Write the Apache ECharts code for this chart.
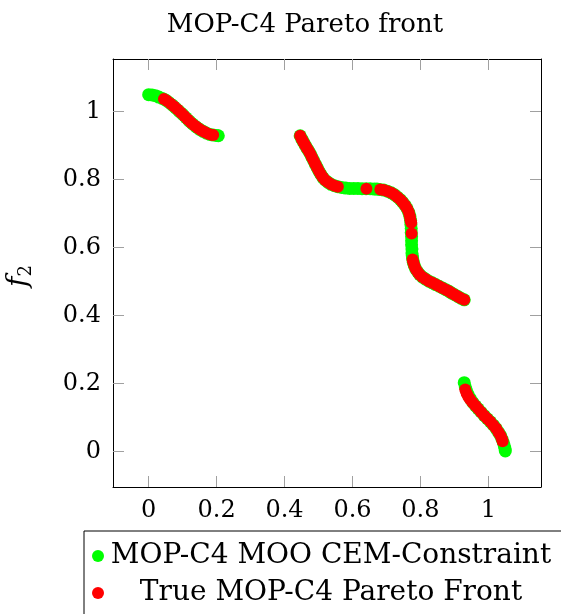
<!DOCTYPE html>
<html>
<head>
<meta charset="utf-8">
<script src="https://cdn.jsdelivr.net/npm/echarts@6/dist/echarts.min.js"></script>
<style>
  html, body { margin: 0; padding: 0; background: #fff; }
  #chart { width: 561px; height: 614px; }
</style>
</head>
<body>
<div id="chart"></div>
<script>
// values
const tickValues = [0, 0.2, 0.4, 0.6, 0.8, 1]

const cemPoints = [
  [0, 1.050], [0.01, 1.049], [0.02, 1.047], [0.03, 1.043], [0.04, 1.039], [0.05, 1.034],
  [0.06, 1.027], [0.07, 1.019], [0.08, 1.010], [0.09, 1.001], [0.10, 0.992], [0.11, 0.982],
  [0.12, 0.972], [0.13, 0.963], [0.14, 0.955], [0.15, 0.948], [0.16, 0.942], [0.17, 0.937],
  [0.18, 0.933], [0.19, 0.931], [0.20, 0.930], [0.205, 0.929],
  [0.446, 0.929], [0.451, 0.919], [0.456, 0.910], [0.461, 0.901], [0.466, 0.892], [0.471, 0.884],
  [0.476, 0.875], [0.481, 0.865], [0.486, 0.855], [0.491, 0.845], [0.496, 0.835], [0.501, 0.825],
  [0.507, 0.815], [0.513, 0.806], [0.520, 0.798], [0.528, 0.792], [0.537, 0.786], [0.547, 0.782],
  [0.557, 0.779], [0.568, 0.777], [0.580, 0.775], [0.592, 0.774], [0.604, 0.774], [0.616, 0.774],
  [0.628, 0.773], [0.640, 0.773], [0.652, 0.773], [0.664, 0.772], [0.672, 0.772], [0.680, 0.771],
  [0.692, 0.769], [0.703, 0.766], [0.714, 0.761], [0.724, 0.755], [0.733, 0.748], [0.741, 0.741],
  [0.748, 0.733], [0.755, 0.724], [0.761, 0.714], [0.766, 0.703], [0.769, 0.692], [0.771, 0.680],
  [0.772, 0.668], [0.773, 0.656], [0.773, 0.644], [0.774, 0.632], [0.774, 0.620], [0.774, 0.608],
  [0.775, 0.596], [0.775, 0.584], [0.776, 0.576], [0.777, 0.568], [0.779, 0.557], [0.782, 0.547],
  [0.786, 0.537], [0.792, 0.528], [0.798, 0.520], [0.806, 0.513], [0.815, 0.507], [0.825, 0.501],
  [0.835, 0.496], [0.845, 0.491], [0.855, 0.486], [0.865, 0.481], [0.875, 0.476], [0.884, 0.471],
  [0.892, 0.466], [0.901, 0.461], [0.910, 0.456], [0.919, 0.451], [0.929, 0.446],
  [0.929, 0.202], [0.932, 0.190], [0.936, 0.178], [0.941, 0.166], [0.947, 0.155], [0.954, 0.144],
  [0.962, 0.134], [0.970, 0.125], [0.979, 0.115], [0.988, 0.105], [0.997, 0.096], [1.006, 0.087],
  [1.015, 0.077], [1.023, 0.067], [1.030, 0.056], [1.036, 0.046], [1.040, 0.036], [1.044, 0.026],
  [1.047, 0.016], [1.049, 0.008], [1.050, 0.001]
]

const truePoints = [
  [0.045, 1.037], [0.055, 1.031], [0.065, 1.023], [0.075, 1.015], [0.085, 1.006], [0.095, 0.997],
  [0.105, 0.987], [0.115, 0.977], [0.125, 0.967], [0.135, 0.959], [0.145, 0.952], [0.155, 0.945],
  [0.165, 0.940], [0.175, 0.935], [0.185, 0.932], [0.190, 0.931],
  [0.446, 0.929], [0.451, 0.919], [0.456, 0.910], [0.461, 0.901], [0.466, 0.892], [0.471, 0.884],
  [0.476, 0.875], [0.481, 0.865], [0.486, 0.855], [0.491, 0.845], [0.496, 0.835], [0.501, 0.825],
  [0.507, 0.815], [0.513, 0.806], [0.520, 0.798], [0.528, 0.792], [0.537, 0.786], [0.547, 0.782],
  [0.557, 0.779],
  [0.641, 0.773],
  [0.682, 0.771], [0.692, 0.769], [0.703, 0.766], [0.714, 0.761], [0.724, 0.755], [0.733, 0.748],
  [0.741, 0.741], [0.748, 0.733], [0.755, 0.724], [0.761, 0.714], [0.766, 0.703], [0.769, 0.692],
  [0.771, 0.680], [0.773, 0.673],
  [0.774, 0.641],
  [0.777, 0.565], [0.779, 0.557], [0.782, 0.547], [0.786, 0.537], [0.792, 0.528], [0.798, 0.520],
  [0.806, 0.513], [0.815, 0.507], [0.825, 0.501], [0.835, 0.496], [0.845, 0.491], [0.855, 0.486],
  [0.865, 0.481], [0.875, 0.476], [0.884, 0.471], [0.892, 0.466], [0.901, 0.461], [0.910, 0.456],
  [0.919, 0.451], [0.929, 0.446],
  [0.932, 0.182], [0.936, 0.171], [0.941, 0.161], [0.947, 0.152], [0.954, 0.143], [0.962, 0.134],
  [0.970, 0.125], [0.979, 0.115], [0.988, 0.105], [0.997, 0.096], [1.006, 0.087], [1.015, 0.077],
  [1.023, 0.067], [1.030, 0.056], [1.036, 0.046], [1.040, 0.036], [1.042, 0.030]
]

const font = 'DejaVu Serif'
const tickStyle = { show: true, inside: true, length: 11, lineStyle: { color: '#a0a0a0', width: 1 } }

function baseAxis(pos, labels) {
  return {
    type: 'value',
    position: pos,
    min: -0.105,
    max: 1.155,
    splitLine: { show: false },
    axisLine: { show: true, onZero: false, lineStyle: { color: '#000', width: 1 } },
    axisTick: Object.assign({ customValues: tickValues }, tickStyle),
    axisLabel: {
      show: labels,
      customValues: tickValues,
      fontFamily: font,
      fontSize: 24,
      color: '#000',
      margin: 12
    }
  }
}

const chart = echarts.init(document.getElementById('chart'))

const option = {
  animation: false,
  textStyle: { fontFamily: font },
  title: {
    text: 'MOP-C4 Pareto front',
    left: 300,
    top: 7,
    textAlign: 'center',
    textStyle: { fontFamily: font, fontSize: 26, fontWeight: 'normal', color: '#000' }
  },
  grid: { left: 113, top: 59, width: 428, height: 428 },
  xAxis: [baseAxis('bottom', true), baseAxis('top', false)],
  yAxis: [baseAxis('left', true), baseAxis('right', false)],
  legend: {
    orient: 'vertical',
    left: 84,
    top: 531,
    height: 100,
    icon: 'circle',
    itemWidth: 12,
    itemHeight: 12,
    itemGap: 9,
    padding: [11, 10, 12, 8],
    borderColor: '#000',
    borderWidth: 1,
    formatter: name => '{t|' + name + '}',
    textStyle: {
      color: '#000',
      rich: { t: { fontFamily: font, fontSize: 28, lineHeight: 33, width: 444, align: 'center', color: '#000' } }
    },
    data: ['MOP-C4 MOO CEM-Constraint', 'True MOP-C4 Pareto Front']
  },
  graphic: [{
    type: 'text',
    x: 35,
    y: 276,
    rotation: Math.PI / 2,
    style: {
      text: '{f|f}{s|2}',
      align: 'center',
      verticalAlign: 'bottom',
      rich: {
        f: { fontFamily: font, fontStyle: 'italic', fontSize: 28, fill: '#000' },
        s: { fontFamily: font, fontSize: 18, fill: '#000', padding: [14, 0, 0, 0] }
      }
    }
  }],
  series: [
    {
      name: 'MOP-C4 MOO CEM-Constraint',
      type: 'scatter',
      data: cemPoints,
      symbol: 'circle',
      symbolSize: 13,
      itemStyle: { color: '#00ff00', opacity: 1 }
    },
    {
      name: 'True MOP-C4 Pareto Front',
      type: 'scatter',
      data: truePoints,
      symbol: 'circle',
      symbolSize: 12,
      itemStyle: { color: '#ff0000', opacity: 1 }
    }
  ]
}
chart.setOption(option)
</script>
</body>
</html>
